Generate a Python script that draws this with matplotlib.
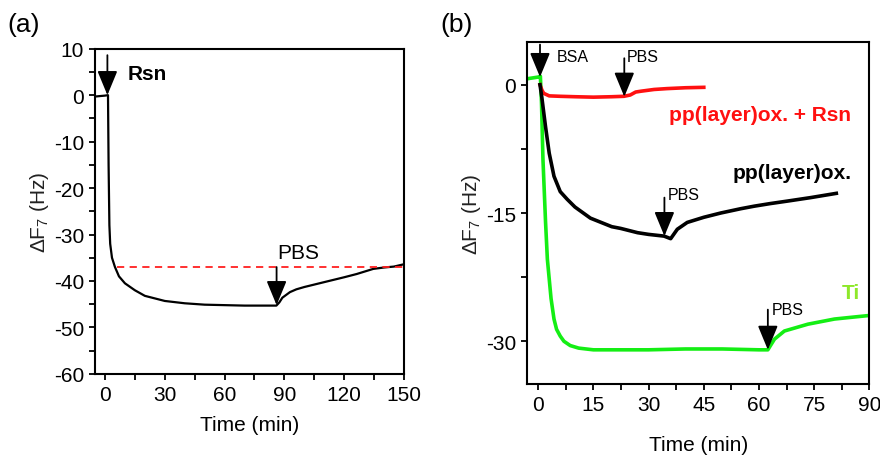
import matplotlib
matplotlib.use("Agg")
import matplotlib.pyplot as plt
from matplotlib.ticker import MultipleLocator

plt.rcParams['font.family'] = ['Liberation Sans', 'DejaVu Sans']
plt.rcParams['mathtext.fontset'] = 'custom'
plt.rcParams['mathtext.rm'] = 'Liberation Sans'
plt.rcParams['mathtext.it'] = 'Liberation Sans:italic'
plt.rcParams['axes.unicode_minus'] = False

# panel (a): Rsn adsorption, then PBS rinse
a_time = [-5, 0, 1.5, 1.8, 2.2, 2.6, 3.5, 5, 7, 10, 15, 20, 30, 40, 50, 60, 70, 80,
          86, 87.5, 89, 92.8, 96, 100, 109.5, 120, 126.3, 134.6, 140, 145, 150]
a_freq = [-0.3, -0.1, 0, -15, -28, -32, -35, -37, -39, -40.5, -42, -43.2, -44.3,
          -44.8, -45.1, -45.2, -45.3, -45.3, -45.3, -44.6, -43.6, -42.4, -41.8,
          -41.3, -40.3, -39.2, -38.5, -37.4, -37.1, -36.9, -36.4]
a_ref_level = -37
a_ref_start = 6

# panel (b): BSA adsorption on three surfaces
red_time = [0.5, 1.0, 1.5, 3, 6, 10, 15, 20, 23.3, 25, 26.5, 28, 31.5, 35, 40, 45]
red_freq = [0, -0.6, -1.0, -1.3, -1.35, -1.4, -1.45, -1.4, -1.35, -1.2, -0.85,
            -0.75, -0.55, -0.45, -0.35, -0.3]

black_time = [0.5, 1.0, 2.0, 3.0, 4.3, 6, 7.9, 10, 14.2, 20, 22.4, 27, 30, 34.2, 36,
              37.8, 40.5, 45, 49.6, 55, 58.7, 63, 67.8, 74, 81]
black_freq = [0, -1.5, -4.9, -8.0, -10.7, -12.5, -13.4, -14.3, -15.6, -16.6, -16.8,
              -17.3, -17.5, -17.7, -18.0, -16.9, -16.1, -15.5, -15.0, -14.5, -14.2,
              -13.9, -13.6, -13.2, -12.7]

green_time = [-3, 0, 0.6, 0.9, 1.3, 2.0, 2.5, 3.5, 4.3, 5, 6, 7, 8.7, 11, 15, 20,
              30, 40, 50, 60, 62.4, 64.2, 66.9, 73.3, 80.5, 85, 89.6]
green_freq = [0.7, 0.9, 1.0, -2, -8.7, -16, -20.4, -25, -27.4, -28.6, -29.4, -30.0,
              -30.5, -30.8, -31.0, -31.0, -31.0, -30.9, -30.9, -31.0, -31.0, -29.75,
              -28.8, -28.0, -27.4, -27.2, -27.0]

fig = plt.figure(figsize=(8.8, 4.6), dpi=100)
ax1 = fig.add_axes([0.108, 0.185, 0.351, 0.707])
ax2 = fig.add_axes([0.599, 0.163, 0.389, 0.7435])


def style_axis(ax):
    for s in ax.spines.values():
        s.set_linewidth(1.5)
    ax.tick_params(which='major', direction='out', length=4.5, width=1.3, labelsize=15)
    ax.tick_params(which='minor', direction='out', length=4, width=1.3)


def arrow(ax, x, y_tail, y_tip, lw=1.3):
    ax.annotate('', xy=(x, y_tip), xytext=(x, y_tail),
                arrowprops=dict(arrowstyle='-|>,head_length=1.5,head_width=0.62',
                                color='black', lw=lw, shrinkA=0, shrinkB=0,
                                mutation_scale=10))


# ---- (a)
ax1.plot(a_time, a_freq, color='black', lw=1.6)
ax1.plot([a_ref_start, 150], [a_ref_level, a_ref_level], color='#ff2020', lw=1.3,
         ls=(0, (4, 3)))
ax1.set_xlim(-5, 150)
ax1.set_ylim(-60, 10)
ax1.xaxis.set_major_locator(MultipleLocator(30))
ax1.xaxis.set_minor_locator(MultipleLocator(15))
ax1.yaxis.set_major_locator(MultipleLocator(10))
ax1.yaxis.set_minor_locator(MultipleLocator(5))
style_axis(ax1)
ax1.set_xlabel('Time (min)', fontsize=15, labelpad=8)
ax1.set_ylabel(r'ΔF$_7$ (Hz)', fontsize=15, color='#222222', labelpad=2)
arrow(ax1, 1.2, 8.6, 0)
ax1.text(11.5, 4.6, 'Rsn', fontsize=15, fontweight='bold', va='center', ha='left')
arrow(ax1, 86.1, -37, -45.2)
ax1.text(97, -33.8, 'PBS', fontsize=15, va='center', ha='center')
fig.text(0.008, 0.945, '(a)', fontsize=19, va='center', ha='left')

# ---- (b)
ax2.plot(green_time, green_freq, color='#14ee14', lw=2.6)
ax2.plot(red_time, red_freq, color='#ff1010', lw=2.6)
ax2.plot(black_time, black_freq, color='black', lw=2.6)
ax2.set_xlim(-3, 90)
ax2.set_ylim(-35, 5)
ax2.xaxis.set_major_locator(MultipleLocator(15))
ax2.xaxis.set_minor_locator(MultipleLocator(7.5))
ax2.yaxis.set_major_locator(MultipleLocator(15))
ax2.yaxis.set_minor_locator(MultipleLocator(7.5))
style_axis(ax2)
ax2.set_xlabel('Time (min)', fontsize=15, labelpad=15)
ax2.set_ylabel(r'ΔF$_7$ (Hz)', fontsize=15, color='#222222', labelpad=2)

arrow(ax2, 0.5, 4.7, 0.9)
ax2.text(5.1, 3.3, 'BSA', fontsize=11.5, va='center', ha='left')
arrow(ax2, 23.4, 3.1, -1.4)
ax2.text(24.2, 3.3, 'PBS', fontsize=11.5, va='center', ha='left')
arrow(ax2, 34.3, -13.2, -17.7)
ax2.text(35.1, -12.8, 'PBS', fontsize=11.5, va='center', ha='left')
arrow(ax2, 62.4, -26.3, -31.0)
ax2.text(63.5, -26.3, 'PBS', fontsize=11.5, va='center', ha='left')

ax2.text(35.5, -3.5, 'pp(layer)ox. + Rsn', color='#ff1010', fontsize=15,
         fontweight='bold', va='center', ha='left')
ax2.text(52.9, -10.3, 'pp(layer)ox.', color='black', fontsize=15,
         fontweight='bold', va='center', ha='left')
ax2.text(82.4, -24.3, 'Ti', color='#8ee82a', fontsize=15,
         fontweight='bold', va='center', ha='left')
fig.text(0.5, 0.945, '(b)', fontsize=19, va='center', ha='left')

fig.savefig('out.png', dpi=100)
